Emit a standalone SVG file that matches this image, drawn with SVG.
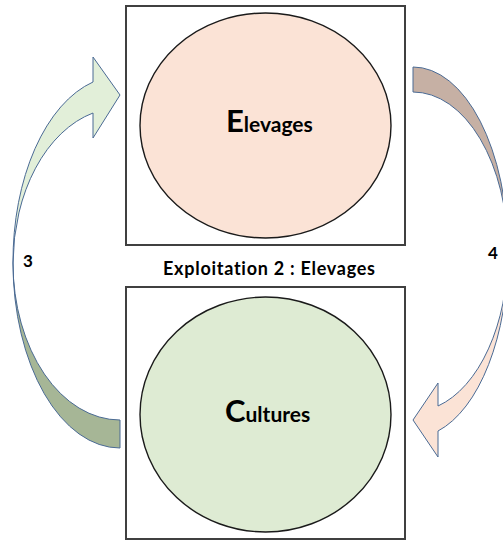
<svg xmlns="http://www.w3.org/2000/svg" width="503" height="542" viewBox="0 0 503 542">
<style>
.box{fill:#ffffff;stroke:#404040;stroke-width:2}
.circ{stroke:#1a1a1a;stroke-width:1.4}
.arr{stroke:#4a6a94;stroke-width:1;stroke-linejoin:miter}
.t{font-family:Lato,"Liberation Sans",sans-serif;font-weight:bold;fill:#000;font-variant-ligatures:none}
</style>
<rect width="503" height="542" fill="#ffffff"/>
<g id="connectors">
  <g id="arrow3">
    <path class="arr" fill="#A6B696" d="M 13,263 A 107 185 0 0 0 120,448 L 120,420 A 107 157 0 0 1 13,263 Z"/>
    <path class="arr" fill="#E2EFD9" d="M 13,263 A 107 185 0 0 1 93,82 L 93,57 L 120,95 L 93,138 L 93,113 A 107 156 0 0 0 13,263 Z"/>
  </g>
  <g id="arrow4">
    <path class="arr" fill="#C6B0A4" d="M 413,67 A 95 185 0 0 1 508,252 A 95 160 0 0 0 413,92 Z"/>
    <path class="arr" fill="#FBE3D6" d="M 508,252 A 95 185 0 0 1 438,431 L 438,457 L 413,420 L 438,383 L 438,406 A 95 160 0 0 0 508,252 Z"/>
  </g>
</g>
<g id="label3"><text class="t" x="23" y="267" font-size="17">3</text></g>
<g id="label4"><text class="t" x="488" y="259" font-size="17">4</text></g>
<g id="elevages">
  <rect class="box" x="126" y="6" width="279" height="239"/>
  <ellipse class="circ" fill="#FBE3D6" cx="265.5" cy="125.5" rx="125.5" ry="112.5"/>
  <text class="t" x="226" y="132"><tspan font-size="31">E</tspan><tspan font-size="21">levages</tspan></text>
</g>
<g id="title"><text class="t" x="163" y="275" font-size="18" textLength="212">Exploitation 2 : Elevages</text></g>
<g id="cultures">
  <rect class="box" x="126" y="287" width="279" height="252"/>
  <ellipse class="circ" fill="#DEEBD3" cx="265.5" cy="414.5" rx="125.5" ry="117.5"/>
  <text class="t" x="225" y="422"><tspan font-size="31">C</tspan><tspan font-size="21">ultures</tspan></text>
</g>
</svg>
